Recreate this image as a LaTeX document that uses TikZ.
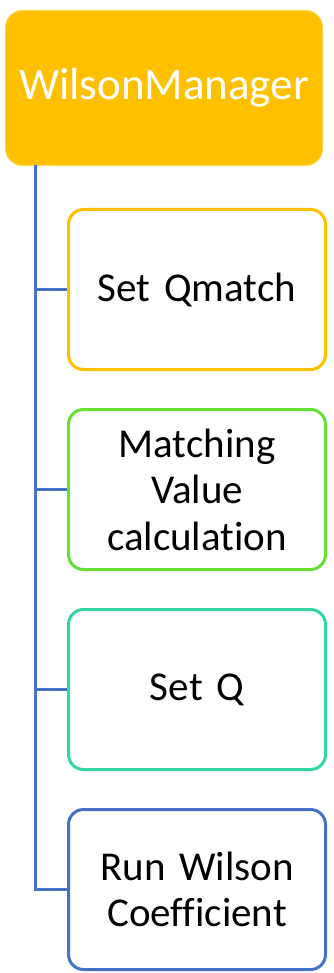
\documentclass[tikz,border=0pt]{standalone}
\usepackage{fontspec}
\setmainfont[Ligatures=NoCommon]{Carlito}
\definecolor{cOrange}{HTML}{FFC000}
\definecolor{cGreen}{HTML}{66E033}
\definecolor{cTeal}{HTML}{33D6A0}
\definecolor{cBlue}{HTML}{4472C4}
\newcommand{\boxfont}{\fontsize{41}{46.5}\selectfont\spaceskip=0.2em\relax}
\begin{document}
\begin{tikzpicture}[x=1pt,y=-1pt,
  childbox/.style={draw, line width=3pt, rounded corners=15pt, fill=white,
    minimum width=257pt, minimum height=160pt, inner sep=0pt, anchor=north west,
    align=center, text width=240pt, font=\boxfont},
  conn/.style={draw=cBlue, line width=3pt}]
\useasboundingbox (0,0) rectangle (334,973);
\node[fill=cOrange, draw=cOrange!70!white, line width=1pt, rounded corners=17pt, minimum width=317pt, minimum height=155pt,
  inner sep=0pt, anchor=north west, text=white, font=\fontsize{45}{50}\selectfont] (root) at (5,10) {WilsonManager};
\node[childbox, draw=cOrange] (c1) at (67,208) {Set Qmatch};
\node[childbox, draw=cGreen] (c2) at (67,408) {Matching\\Value\\calculation};
\node[childbox, draw=cTeal] (c3) at (67,608) {Set Q};
\node[childbox, draw=cBlue] (c4) at (67,808) {Run Wilson\\Coefficient};
\coordinate (top) at (35,165);
\draw[conn] (top) |- (c1.west);
\draw[conn] (top) |- (c2.west);
\draw[conn] (top) |- (c3.west);
\draw[conn] (top) |- (c4.west);
\end{tikzpicture}
\end{document}
